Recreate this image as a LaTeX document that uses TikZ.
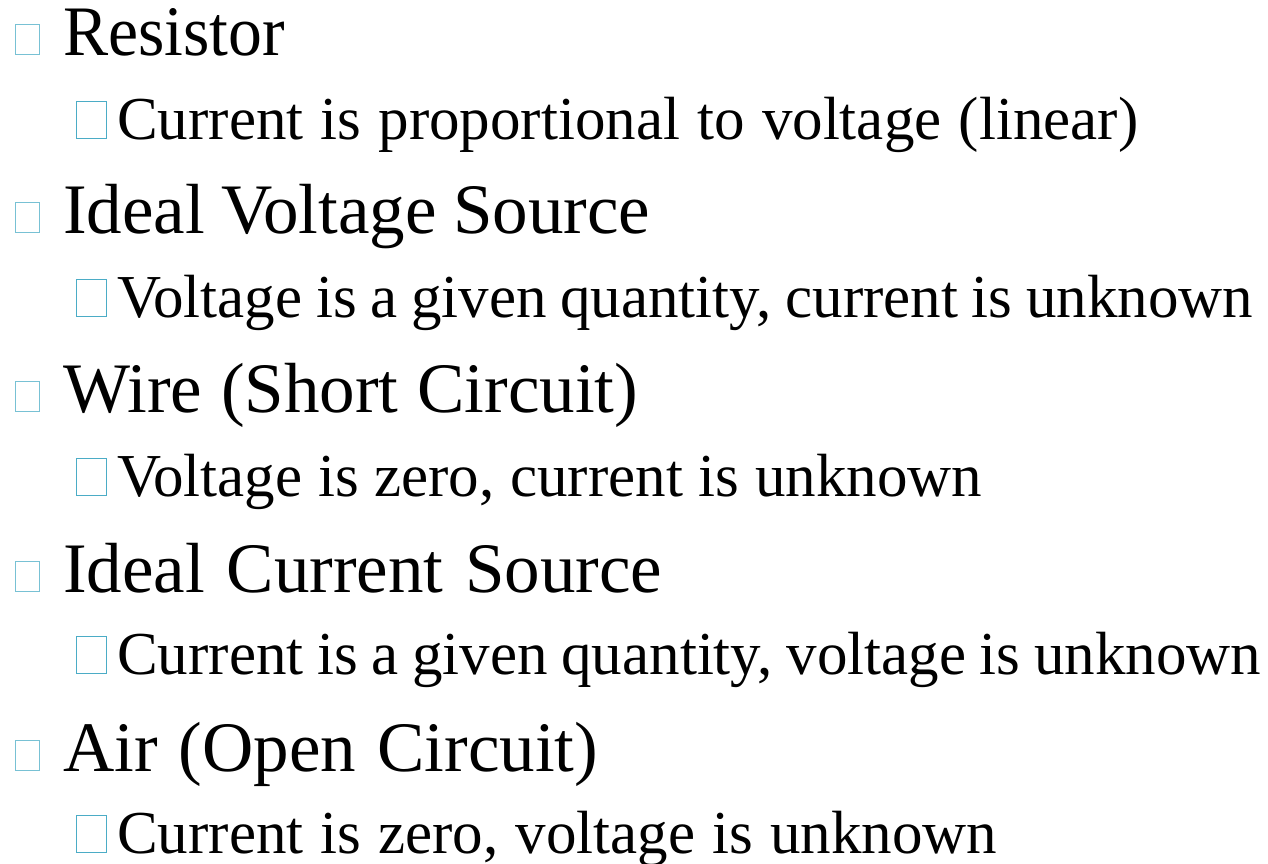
\documentclass[tikz,border=0pt]{standalone}
\usepackage{fontspec}
\setmainfont{Liberation Serif}
\definecolor{bulletblue}{HTML}{4BACC6}
\begin{document}
\begin{tikzpicture}[x=1pt,y=-1pt,
  lone/.style={anchor=base west,inner sep=0pt,font=\fontsize{71}{80}\selectfont},
  ltwo/.style={anchor=base west,inner sep=0pt,font=\fontsize{61}{66}\selectfont},
  bone/.style={draw=bulletblue!75,line width=1.1pt,anchor=south west,inner sep=0pt,minimum width=24pt,minimum height=30pt},
  btwo/.style={draw=bulletblue,line width=1.4pt,anchor=south west,inner sep=0pt,minimum width=30pt,minimum height=37pt}]
\useasboundingbox (0,0) rectangle (1268,863);
\node[bone] (b1) at (15,55) {};
\node[lone] (t1) at (63,55) {\scalebox{0.953}[1]{Resistor}};
\node[btwo] (c1) at (76,139) {};
\node[ltwo] (s1) at (117,139) {\makebox[1021pt][s]{Current is proportional to voltage (linear)}};
\node[bone] (b2) at (15,233) {};
\node[lone] (t2) at (63,233) {\makebox[587pt][s]{Ideal Voltage Source}};
\node[btwo] (c2) at (76,317) {};
\node[ltwo] (s2) at (117,317) {\makebox[1136pt][s]{Voltage is a given quantity, current is unknown}};
\node[bone] (b3) at (15,412) {};
\node[lone] (t3) at (63,412) {\makebox[575pt][s]{Wire (Short Circuit)}};
\node[btwo] (c3) at (76,496) {};
\node[ltwo] (s3) at (117,496) {\makebox[865pt][s]{Voltage is zero, current is unknown}};
\node[bone] (b4) at (15,592) {};
\node[lone] (t4) at (63,592) {\makebox[599pt][s]{Ideal Current Source}};
\node[btwo] (c4) at (76,674) {};
\node[ltwo] (s4) at (117,674) {\makebox[1144pt][s]{Current is a given quantity, voltage is unknown}};
\node[bone] (b5) at (15,771) {};
\node[lone] (t5) at (63,771) {\makebox[535pt][s]{Air (Open Circuit)}};
\node[btwo] (c5) at (76,853) {};
\node[ltwo] (s5) at (117,853) {\makebox[880pt][s]{Current is zero, voltage is unknown}};
\end{tikzpicture}
\end{document}
